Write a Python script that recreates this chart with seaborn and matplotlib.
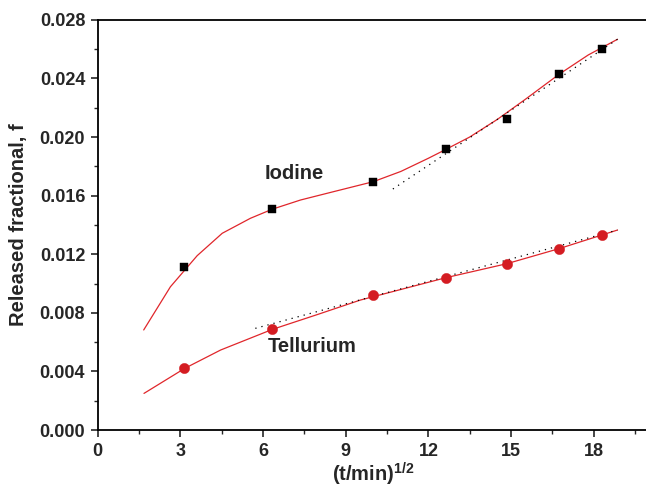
import numpy as np
import pandas as pd
import matplotlib
matplotlib.use('Agg')
import matplotlib.pyplot as plt
import seaborn as sns

# measured points
t_sqrt = [3.15, 6.33, 10.0, 12.64, 14.84, 16.74, 18.31]
iodine = [0.0111, 0.0151, 0.01695, 0.01915, 0.0212, 0.0243, 0.0260]
tellurium = [0.00422, 0.00687, 0.0092, 0.0104, 0.01133, 0.01236, 0.01331]

# fitted curves (red), vertices
fit_i_x = [1.67, 2.64, 3.61, 4.52, 5.54, 6.33, 7.36, 8.56, 10.0, 11.0, 12.0, 12.64, 13.5, 14.5, 15.5, 16.74, 17.8, 18.86]
fit_i_y = [0.00683, 0.00978, 0.0119, 0.01343, 0.01445, 0.01507, 0.0157, 0.01627, 0.01695, 0.01765, 0.01855, 0.01916, 0.0200, 0.0212, 0.02255, 0.02428, 0.0256, 0.02667]
fit_t_x = [1.68, 3.16, 4.46, 6.34, 8.0, 9.53, 12.64, 14.84, 16.74, 18.86]
fit_t_y = [0.0025, 0.00421, 0.00546, 0.00687, 0.0079, 0.00887, 0.0104, 0.01135, 0.01238, 0.01365]

# linear guides (dotted)
lin_i_x = [10.71, 18.86]
lin_i_y = [0.01645, 0.02667]
lin_t_x = [5.72, 18.86]
lin_t_y = [0.00694, 0.01365]

sns.set_style('ticks')
plt.rcParams['font.family'] = ['Liberation Sans', 'DejaVu Sans']
plt.rcParams['font.weight'] = 'bold'
plt.rcParams['mathtext.fontset'] = 'custom'
plt.rcParams['mathtext.bf'] = 'Liberation Sans:bold'
plt.rcParams['mathtext.rm'] = 'Liberation Sans:bold'

fig = plt.figure(figsize=(6.46, 4.9), dpi=100)
ax = fig.add_axes([0.1512, 0.1224, 0.8533, 0.8372])

red_line = '#e0262b'
red_dot = '#d41c22'

sns.lineplot(x=fit_i_x, y=fit_i_y, sort=False, color=red_line, lw=0.9, ax=ax)
sns.lineplot(x=fit_t_x, y=fit_t_y, sort=False, color=red_line, lw=0.9, ax=ax)
ax.plot(lin_i_x, lin_i_y, color='black', lw=0.9, linestyle=(0, (1, 4)))
ax.plot(lin_t_x, lin_t_y, color='black', lw=0.9, linestyle=(0, (1, 4)))

sns.scatterplot(x=t_sqrt, y=iodine, marker='s', s=40, color='black',
                edgecolor='black', linewidth=0.3, ax=ax, zorder=5)
sns.scatterplot(x=t_sqrt, y=tellurium, marker='o', s=55, color=red_dot,
                edgecolor=red_dot, linewidth=0.3, ax=ax, zorder=5)

ax.text(7.12, 0.01748, 'Iodine', fontsize=14.5, fontweight='bold', ha='center', va='center')
ax.text(7.78, 0.00569, 'Tellurium', fontsize=14.5, fontweight='bold', ha='center', va='center')

ax.set_xlim(0, 20)
ax.set_ylim(0, 0.028)
ax.set_xticks(np.arange(0, 19, 3))
ax.set_xticks(np.arange(1.5, 20, 3), minor=True)
ax.set_yticks(np.arange(0, 0.0281, 0.004))
ax.set_yticks(np.arange(0.002, 0.028, 0.004), minor=True)
ax.yaxis.set_major_formatter(matplotlib.ticker.FormatStrFormatter('%.3f'))

ax.tick_params(which='major', direction='out', length=5, width=1.2, labelsize=13, pad=4)
ax.tick_params(which='minor', direction='out', length=3, width=1.0)
for lab in ax.get_xticklabels() + ax.get_yticklabels():
    lab.set_fontweight('bold')

for side in ['left', 'bottom', 'top', 'right']:
    ax.spines[side].set_linewidth(1.3)
    ax.spines[side].set_color('black')
ax.spines['right'].set_visible(False)

ax.set_xlabel(r'(t/min)$^{\mathbf{1/2}}$', fontsize=14.5, fontweight='bold', labelpad=1)
ax.set_ylabel('Released fractional, f', fontsize=14.5, fontweight='bold', labelpad=8)

fig.savefig('out.png', dpi=100)
